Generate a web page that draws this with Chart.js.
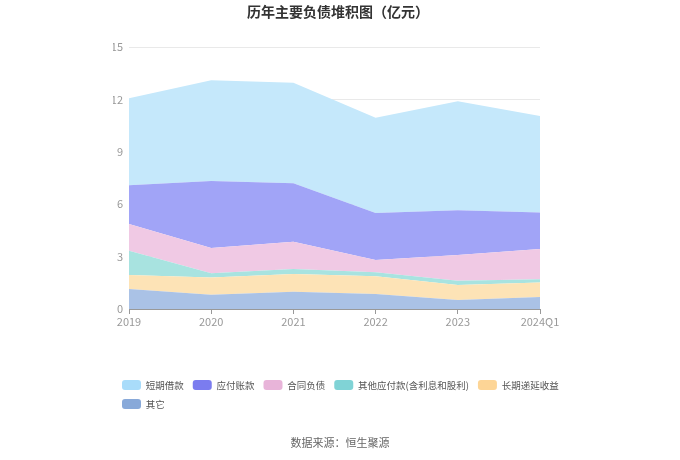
<!DOCTYPE html>
<html>
<head>
<meta charset="utf-8">
<script src="https://cdn.jsdelivr.net/npm/chart.js@4"></script>
<style>
  body { margin: 0; background: #fff; }
  #wrap { position: relative; width: 680px; height: 460px; font-family: "Noto Sans CJK SC", "Noto Sans", sans-serif; }
  #title { position: absolute; left: 0; top: 1px; width: 676px; text-align: center; font-size: 14px; font-weight: bold; color: #333; }
  #source { position: absolute; left: 0; top: 434px; width: 680px; text-align: center; font-size: 11px; color: #666; }
</style>
</head>
<body>
<div id="wrap">
  <canvas id="chart" width="680" height="460"></canvas>
  <div id="title">历年主要负债堆积图（亿元）</div>
  <div id="source">数据来源：恒生聚源</div>
</div>
<script>
// Categories and series (亿元), bottom of the stack first
const years = ['2019', '2020', '2021', '2022', '2023', '2024Q1'];
const otherItems = [1.14, 0.82, 0.99, 0.86, 0.51, 0.69];       // 其它
const deferredIncome = [0.80, 0.99, 1.01, 1.01, 0.86, 0.83];   // 长期递延收益
const otherPayables = [1.39, 0.23, 0.29, 0.23, 0.25, 0.19];    // 其他应付款(含利息和股利)
const contractLiab = [1.53, 1.45, 1.56, 0.70, 1.47, 1.72];     // 合同负债
const accountsPayable = [2.23, 3.84, 3.35, 2.69, 2.57, 2.09];  // 应付账款
const shortLoans = [4.97, 5.76, 5.75, 5.46, 6.24, 5.53];       // 短期借款
const yTicks = [0, 3, 6, 9, 12, 15];

const series = [
    { label: '其它', data: otherItems, fill: '#aac2e6', key: '#88a9d9' },
    { label: '长期递延收益', data: deferredIncome, fill: '#fde3b6', key: '#fdd596' },
    { label: '其他应付款(含利息和股利)', data: otherPayables, fill: '#a8e3e0', key: '#80d3d6' },
    { label: '合同负债', data: contractLiab, fill: '#f0c9e4', key: '#e8b4d9' },
    { label: '应付账款', data: accountsPayable, fill: '#a1a4f7', key: '#7b7cef' },
    { label: '短期借款', data: shortLoans, fill: '#c5e8fb', key: '#a9dcfa' }
];

const font = "'Noto Sans CJK SC', 'Noto Sans', sans-serif";

const ctx = document.getElementById('chart').getContext('2d');
new Chart(ctx, {
    type: 'line',
    data: {
        labels: years,
        datasets: series.map((s, i) => ({
            label: s.label,
            data: s.data,
            backgroundColor: s.fill,
            borderColor: s.fill,
            borderWidth: 0,
            pointRadius: 0,
            tension: 0,
            fill: i === 0 ? 'origin' : '-1'
        }))
    },
    options: {
        responsive: false,
        animation: false,
        layout: { padding: { left: 113, right: 70, top: 47, bottom: 41 } },
        plugins: {
            title: { display: false },
            tooltip: { enabled: false },
            legend: {
                position: 'bottom',
                align: 'start',
                reverse: true,
                labels: {
                    boxWidth: 19,
                    boxHeight: 10,
                    padding: 9,
                    useBorderRadius: true,
                    borderRadius: 3,
                    color: '#555',
                    font: { size: 9.5, family: font },
                    generateLabels(chart) {
                        const items = Chart.defaults.plugins.legend.labels.generateLabels(chart);
                        items.forEach(item => {
                            item.fillStyle = series[item.datasetIndex].key;
                            item.strokeStyle = series[item.datasetIndex].key;
                            item.lineWidth = 0;
                        });
                        return items;
                    }
                }
            }
        },
        scales: {
            x: {
                offset: false,
                grid: { display: true, drawOnChartArea: false, drawTicks: true, tickLength: 5, color: '#999' },
                border: { display: true, color: '#999' },
                ticks: { color: '#999', font: { size: 11, family: font }, padding: 1, maxRotation: 0 },
                afterFit(scale) { scale.height = 62; }
            },
            y: {
                stacked: true,
                min: 0,
                max: 15,
                afterBuildTicks(scale) { scale.ticks = yTicks.map(v => ({ value: v })); },
                grid: { color: '#e9e9e9', drawTicks: false },
                border: { display: false },
                ticks: { color: '#999', font: { size: 11, family: font }, padding: 6 },
                afterFit(scale) { scale.width = 16; }
            },
            y2: {
                position: 'right',
                display: true,
                grid: { display: false, drawTicks: false },
                border: { display: false },
                ticks: { display: false },
                afterFit(scale) { scale.width = 70; }
            }
        }
    }
});
</script>
</body>
</html>
